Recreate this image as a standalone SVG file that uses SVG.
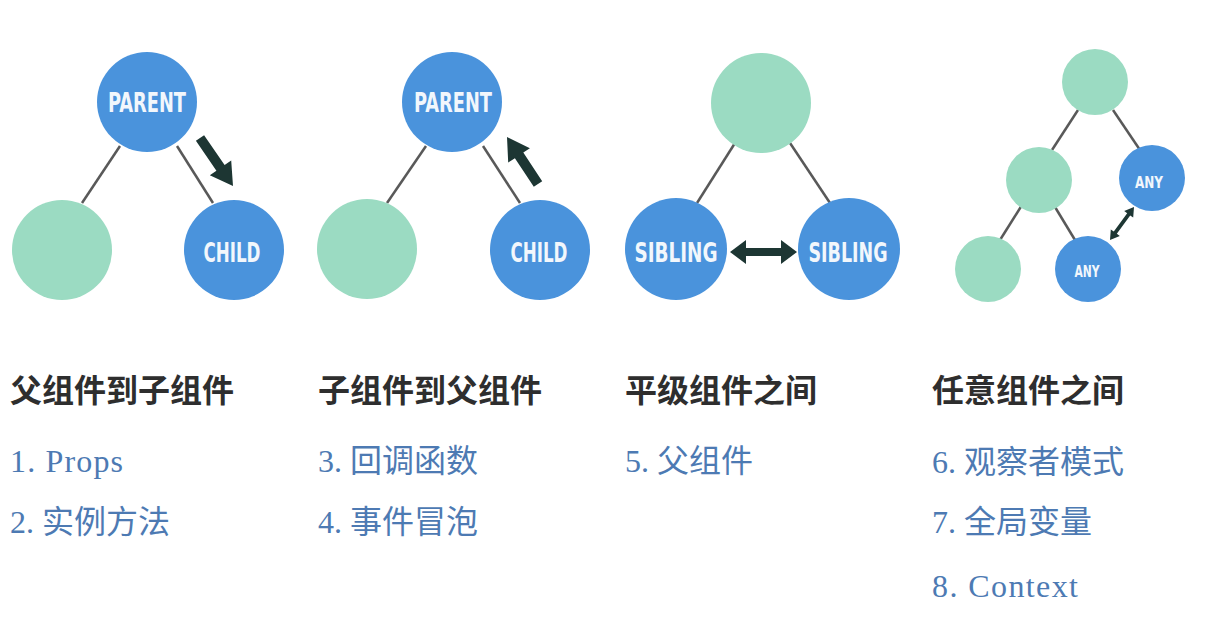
<svg xmlns="http://www.w3.org/2000/svg" width="1230" height="622" viewBox="0 0 1230 622">
<style>
.bg{fill:#ffffff}
.blue{fill:#4a93dc}
.green{fill:#9bdbc2}
.edge{stroke:#595959;stroke-width:2.5;fill:none}
.arrow{fill:#1d3633}
.lbl{font-family:"DejaVu Sans Condensed","DejaVu Sans","Liberation Sans",sans-serif;font-weight:bold;font-stretch:condensed;fill:#f2f7fc}
.big{font-size:27px}
.small{font-size:16px}
.hdr{font-family:"Noto Sans CJK SC","Noto Sans",sans-serif;font-weight:bold;font-size:32px;fill:#2e2e2e}
.item{font-family:"Liberation Serif","Noto Sans CJK SC",serif;font-size:32px;fill:#4d7ab3}
</style>
<rect class="bg" x="0" y="0" width="1230" height="622"/>
<g id="connectors">
  <line class="edge" x1="120" y1="146" x2="82" y2="203"/>
  <line class="edge" x1="177" y1="146" x2="213" y2="203"/>
  <line class="edge" x1="426" y1="146" x2="387" y2="203"/>
  <line class="edge" x1="483" y1="146" x2="520" y2="203"/>
  <line class="edge" x1="735" y1="143" x2="697" y2="203"/>
  <line class="edge" x1="790" y1="143" x2="830" y2="203"/>
  <line class="edge" x1="1078" y1="110" x2="1052" y2="150"/>
  <line class="edge" x1="1113" y1="110" x2="1140" y2="150"/>
  <line class="edge" x1="1022" y1="205" x2="1000" y2="240"/>
  <line class="edge" x1="1055" y1="207" x2="1075" y2="240"/>
  <polygon class="arrow" points="195.9,140.8 216.4,170.7 209.8,175.3 233,186 231.2,160.5 224.6,165.1 204.1,135.2"/>
  <polygon class="arrow" points="542.2,181.2 523.3,152.6 529.9,148.2 507,137 508.2,162.6 514.9,158.2 533.8,186.8"/>
  <polygon class="arrow" points="730,252 746,240 746,248 781,248 781,240 797,252 781,264 781,256 746,256 746,264"/>
  <polygon class="arrow" points="1110,240 1119.8,235.9 1116.8,233.8 1130.2,215.4 1133.2,217.5 1134,207 1124.2,211.1 1127.2,213.2 1113.8,231.6 1110.8,229.5"/>
</g>
<g id="d1-parent"><circle class="blue" cx="147" cy="102" r="50"/><text class="lbl big" x="147" y="112" text-anchor="middle" textLength="78" lengthAdjust="spacingAndGlyphs">PARENT</text></g>
<g id="d1-left"><circle class="green" cx="62" cy="250" r="50"/></g>
<g id="d1-child"><circle class="blue" cx="234" cy="250" r="50"/><text class="lbl big" x="232" y="262" text-anchor="middle" textLength="57" lengthAdjust="spacingAndGlyphs">CHILD</text></g>

<g id="d2-parent"><circle class="blue" cx="452" cy="102" r="50"/><text class="lbl big" x="453" y="112" text-anchor="middle" textLength="78" lengthAdjust="spacingAndGlyphs">PARENT</text></g>
<g id="d2-left"><circle class="green" cx="367" cy="249" r="50"/></g>
<g id="d2-child"><circle class="blue" cx="540" cy="250" r="50"/><text class="lbl big" x="539" y="262" text-anchor="middle" textLength="57" lengthAdjust="spacingAndGlyphs">CHILD</text></g>

<g id="d3-top"><circle class="green" cx="761" cy="103" r="50"/></g>
<g id="d3-left"><circle class="blue" cx="676" cy="249" r="51"/><text class="lbl big" x="676" y="262" text-anchor="middle" textLength="83" lengthAdjust="spacingAndGlyphs">SIBLING</text></g>
<g id="d3-right"><circle class="blue" cx="849" cy="249" r="51"/><text class="lbl big" x="848" y="262" text-anchor="middle" textLength="79" lengthAdjust="spacingAndGlyphs">SIBLING</text></g>

<g id="d4-top"><circle class="green" cx="1095" cy="82" r="33"/></g>
<g id="d4-mid"><circle class="green" cx="1039" cy="180" r="33"/></g>
<g id="d4-any1"><circle class="blue" cx="1152" cy="178" r="33"/><text class="lbl small" x="1149" y="188" text-anchor="middle" textLength="28" lengthAdjust="spacingAndGlyphs">ANY</text></g>
<g id="d4-bl"><circle class="green" cx="988" cy="269" r="33"/></g>
<g id="d4-any2"><circle class="blue" cx="1088" cy="269" r="33"/><text class="lbl small" x="1087" y="277" text-anchor="middle" textLength="25" lengthAdjust="spacingAndGlyphs">ANY</text></g>

<g id="text1">
  <text class="hdr" x="10" y="402">父组件到子组件</text>
  <text class="item" x="10" y="472" textLength="113" lengthAdjust="spacing">1. Props</text>
  <text class="item" x="10" y="533">2. 实例方法</text>
</g>
<g id="text2">
  <text class="hdr" x="318" y="402">子组件到父组件</text>
  <text class="item" x="318" y="472">3. 回调函数</text>
  <text class="item" x="318" y="533">4. 事件冒泡</text>
</g>
<g id="text3">
  <text class="hdr" x="625" y="402">平级组件之间</text>
  <text class="item" x="625" y="472">5. 父组件</text>
</g>
<g id="text4">
  <text class="hdr" x="932" y="402">任意组件之间</text>
  <text class="item" x="932" y="473">6. 观察者模式</text>
  <text class="item" x="932" y="533">7. 全局变量</text>
  <text class="item" x="932" y="597" textLength="146" lengthAdjust="spacing">8. Context</text>
</g>
</svg>
